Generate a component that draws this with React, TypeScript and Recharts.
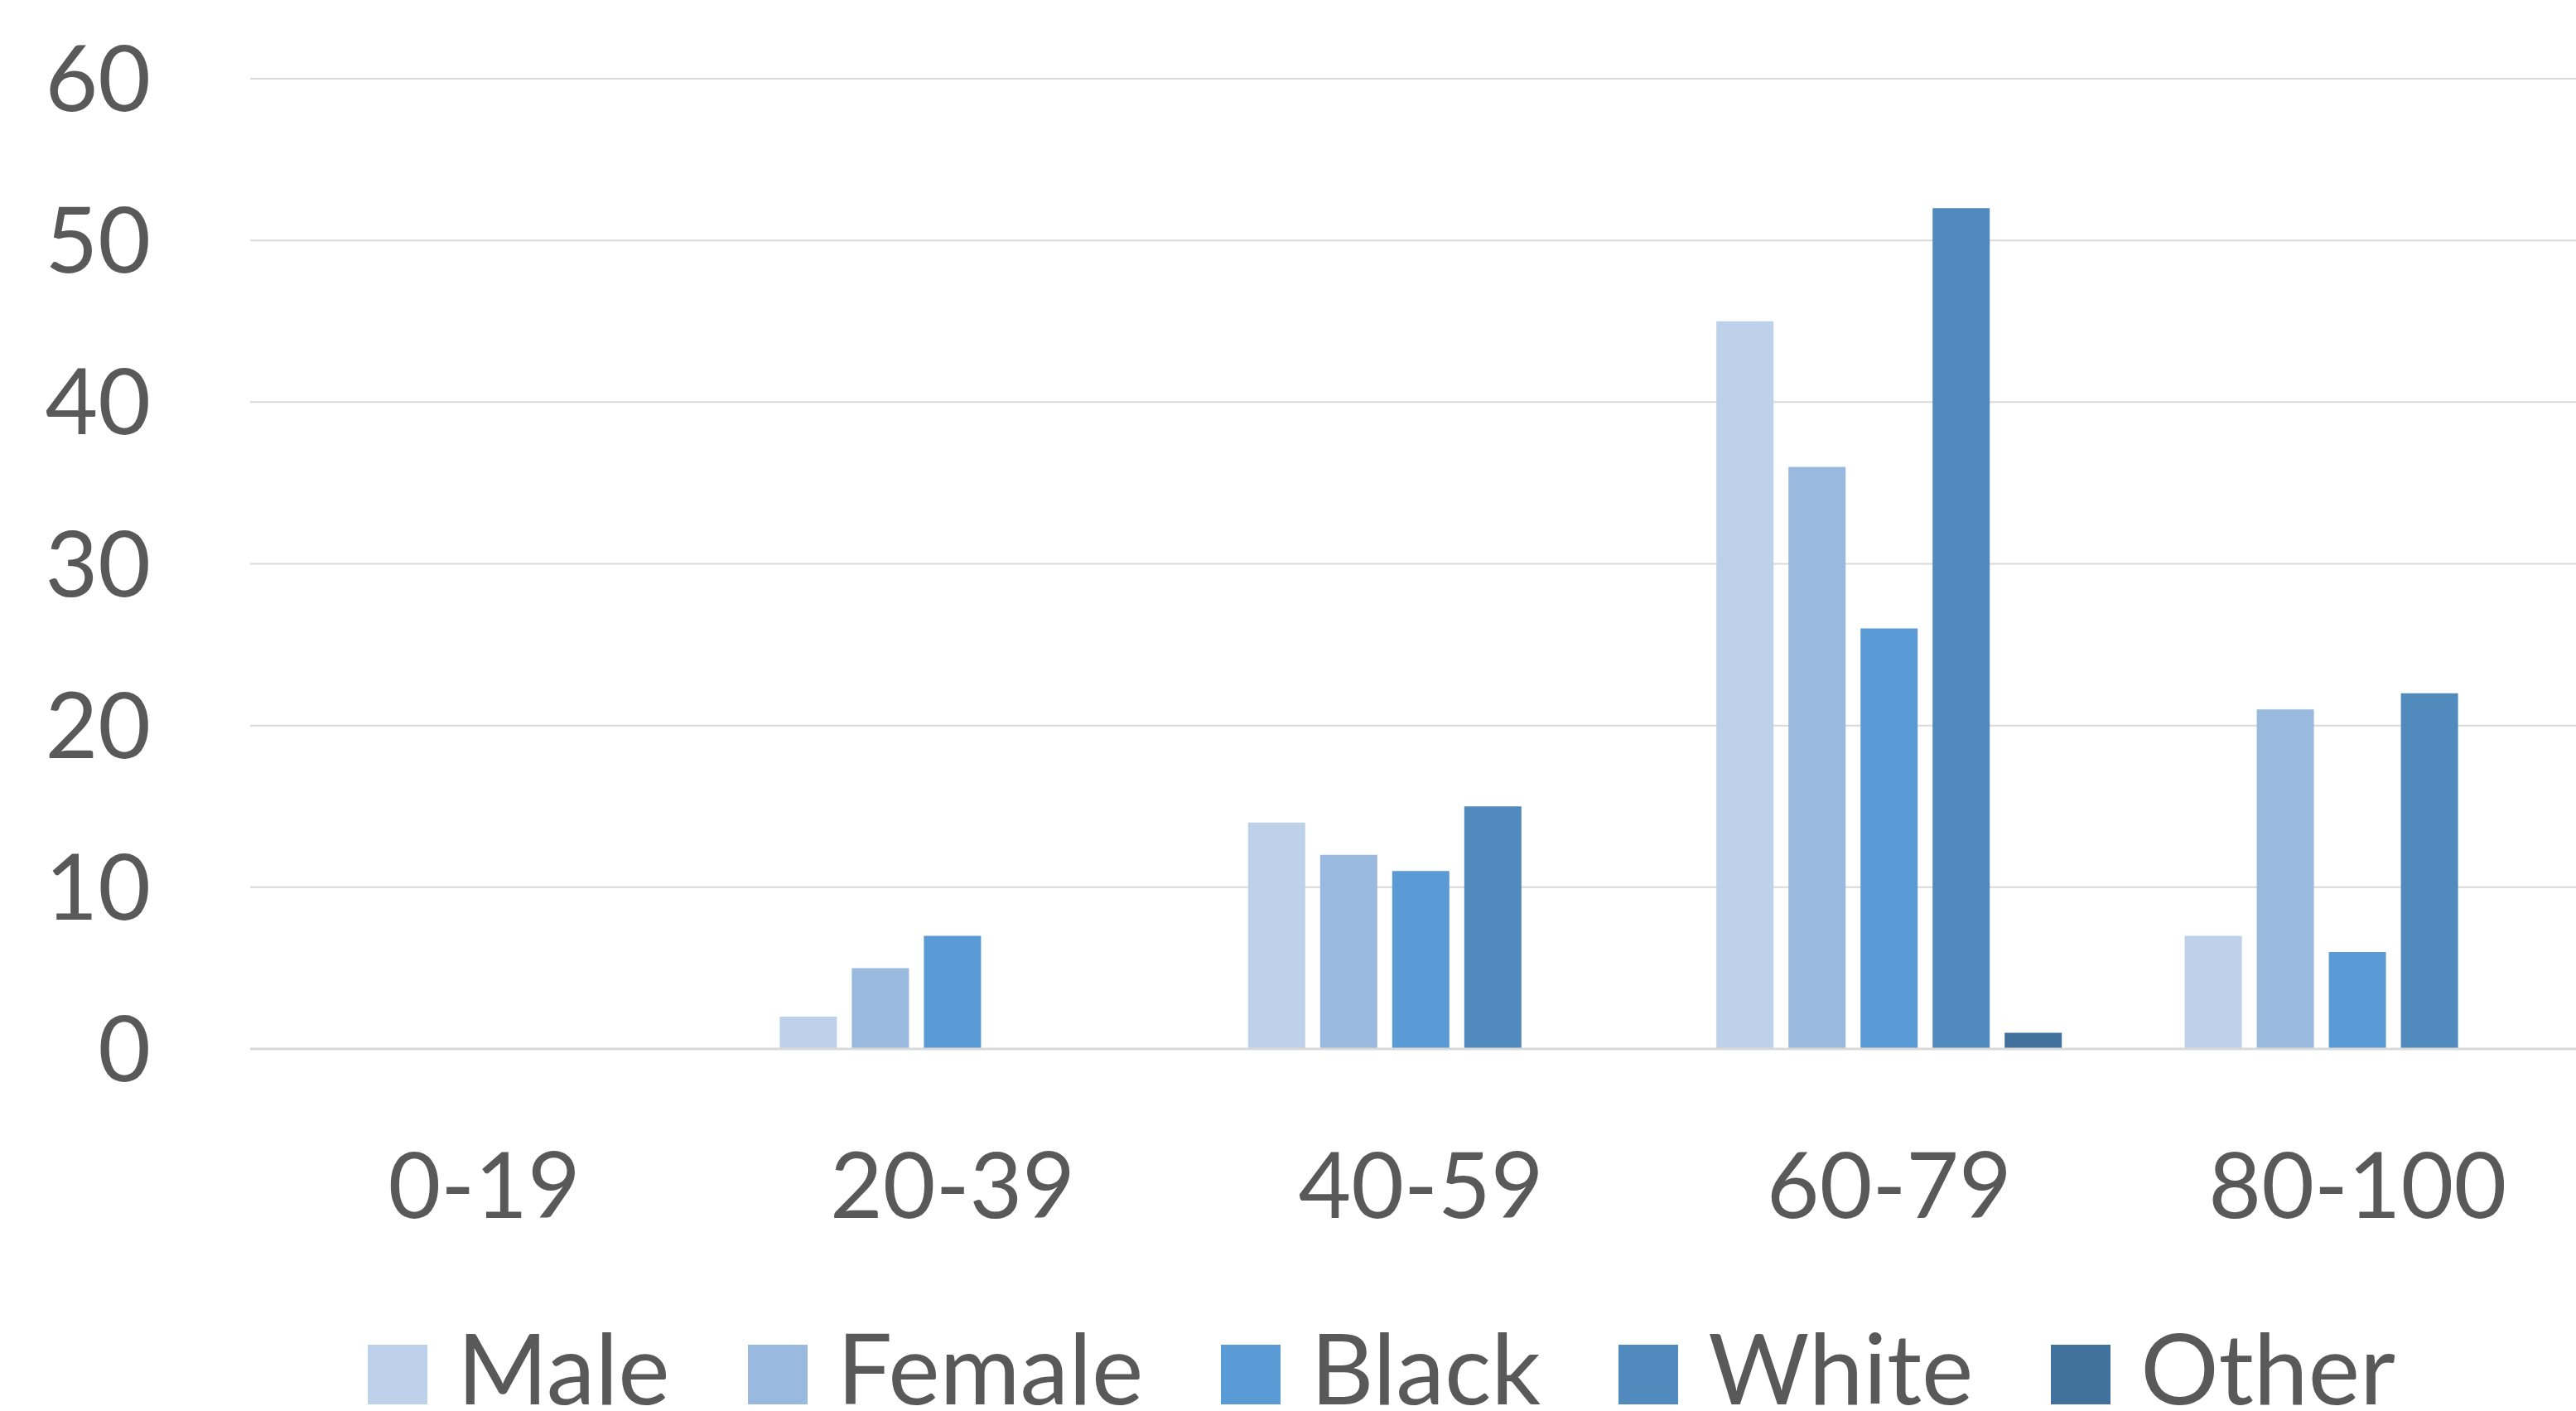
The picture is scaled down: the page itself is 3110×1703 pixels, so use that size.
import { BarChart, Bar, XAxis, YAxis, CartesianGrid } from "recharts";

const ageGroups = ["0-19", "20-39", "40-59", "60-79", "80-100"];
const male = [0, 2, 14, 45, 7];
const female = [0, 5, 12, 36, 21];
const black = [0, 7, 11, 26, 6];
const white = [0, 0, 15, 52, 22];
const other = [0, 0, 0, 1, 0];
const yTicks = [0, 10, 20, 30, 40, 50, 60];

const series = [
  { key: "Male", values: male, color: "#BDD1EA" },
  { key: "Female", values: female, color: "#99B9DF" },
  { key: "Black", values: black, color: "#5B9BD5" },
  { key: "White", values: white, color: "#518ABD" },
  { key: "Other", values: other, color: "#41719C" },
];

const chartData = ageGroups.map((group, i) => {
  const row: any = { group };
  series.forEach((s) => {
    row[s.key] = s.values[i];
  });
  return row;
});

const font = "Lato, 'Open Sans', sans-serif";

export default function App() {
  return (
    <div
      style={{
        position: "absolute",
        left: 0,
        top: 0,
        width: 3110,
        height: 1703,
        overflow: "hidden",
        background: "#fff",
        fontFamily: font,
      }}
    >
      {/* title sits mostly above the visible area, only descenders show */}
      <div
        style={{
          position: "absolute",
          left: 1433,
          top: -153,
          fontSize: 142,
          lineHeight: "142px",
          color: "#000",
          whiteSpace: "nowrap",
        }}
      >
        Demographics
      </div>

      <BarChart
        width={3129}
        height={1703}
        data={chartData}
        margin={{ top: 95, right: 0, left: 0, bottom: 0 }}
        barCategoryGap={74}
        barGap={18}
      >
        <CartesianGrid vertical={false} stroke="#D9D9D9" strokeWidth={2} />
        <XAxis
          dataKey="group"
          height={437}
          axisLine={{ stroke: "#D9D9D9", strokeWidth: 3 }}
          tickLine={false}
          tickSize={0}
          tickMargin={126}
          tick={{ fill: "#595959", fontSize: 110, fontFamily: font }}
        />
        <YAxis
          width={302}
          domain={[0, 60]}
          ticks={yTicks}
          axisLine={false}
          tickLine={false}
          tickSize={0}
          tickMargin={120}
          tick={{ fill: "#595959", fontSize: 110, fontFamily: font }}
        />
        {series.map((s) => (
          <Bar key={s.key} dataKey={s.key} fill={s.color} isAnimationActive={false} />
        ))}
      </BarChart>

      <div
        style={{
          position: "absolute",
          left: 444,
          top: 1591,
          display: "flex",
          alignItems: "flex-start",
          fontSize: 118,
          lineHeight: "118px",
          color: "#595959",
          whiteSpace: "nowrap",
        }}
      >
        {series.map((s) => (
          <div key={s.key} style={{ display: "flex", alignItems: "flex-start", marginRight: 94 }}>
            <div style={{ width: 72, height: 72, marginTop: 32, marginRight: 36, background: s.color }} />
            <span>{s.key}</span>
          </div>
        ))}
      </div>
    </div>
  );
}
